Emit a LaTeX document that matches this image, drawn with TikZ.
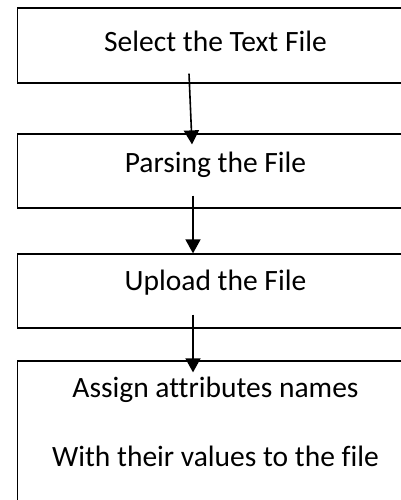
\documentclass[tikz,border=0pt]{standalone}
\usepackage{fontspec}
\setmainfont{Carlito}[Ligatures=NoCommon]
\usetikzlibrary{arrows.meta}
\usetikzlibrary{positioning}

\tikzset{
  stepbox/.style={draw=black,line width=1.2pt,minimum width=396pt,inner sep=0pt},
  steptext/.style={font=\fontsize{29.5}{35}\selectfont,inner sep=0pt,align=center},
  flow/.style={line width=1.6pt,-{Triangle[width=15pt,length=14pt]}}
}

\begin{document}
\begin{tikzpicture}[x=1pt,y=1pt]
\useasboundingbox (0,0) rectangle (401,500);
\node[stepbox,minimum height=75pt] (select) at (215.5,454.5) {};
\node[stepbox,minimum height=74pt] (parse) at (215.5,329) {};
\node[stepbox,minimum height=74pt] (upload) at (215.5,209) {};
\node[stepbox,minimum height=149pt] (assign) at (215.5,64.5) {};

\node[steptext] (selectlbl) at ([yshift=-34pt]select.north) {Select the Text File};
\node[steptext] (parselbl) at ([yshift=-31pt]parse.north) {Parsing the File};
\node[steptext] (uploadlbl) at ([yshift=-29pt]upload.north) {Upload the File};
\node[steptext] (assignlbl) at ([yshift=-29pt]assign.north) {Assign attributes names};
\node[steptext] (valueslbl) at ([yshift=-96pt]assign.north) {With their values to the file};

\draw[flow] ([shift={(-26.5pt,10pt)}]select.south) -- ([shift={(-23.5pt,-11pt)}]parse.north);
\draw[flow] ([shift={(-22.5pt,13pt)}]parse.south) -- ([xshift=-22.5pt]upload.north);
\draw[flow] ([shift={(-22.5pt,14pt)}]upload.south) -- ([shift={(-22.5pt,-12pt)}]assign.north);
\end{tikzpicture}
\end{document}
